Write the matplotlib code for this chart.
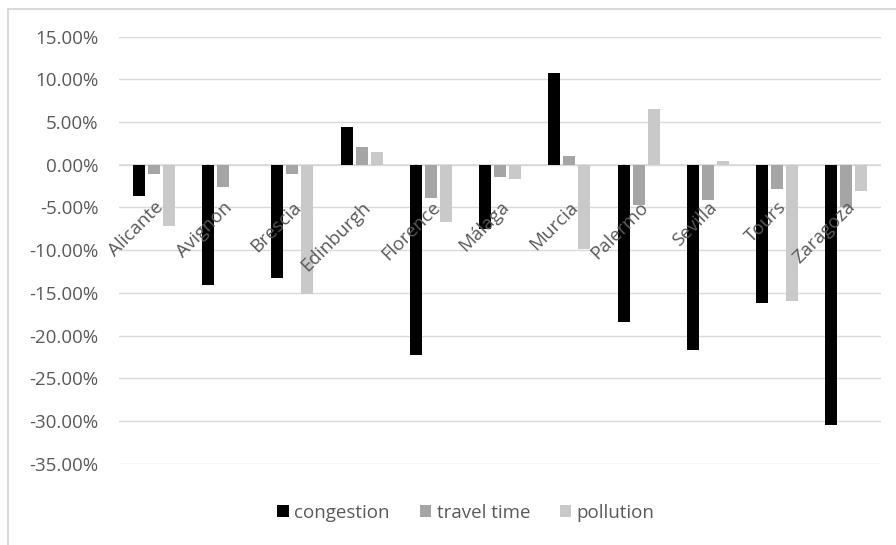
import matplotlib.pyplot as plt
import numpy as np
from matplotlib.patches import Rectangle
from matplotlib.ticker import FuncFormatter

plt.rcParams['font.family'] = ['Open Sans', 'DejaVu Sans']

cities = ['Alicante', 'Avignon', 'Brescia', 'Edinburgh', 'Florence', 'Málaga',
          'Murcia', 'Palermo', 'Sevilla', 'Tours', 'Zaragoza']
congestion = [-3.67, -14.07, -13.3, 4.38, -22.3, -7.5, 10.79, -18.45, -21.64, -16.2, -30.5]
travel_time = [-1.13, -2.58, -1.05, 2.11, -3.87, -1.48, 1.06, -4.72, -4.1, -2.85, -4.92]
pollution = [-7.15, np.nan, -15.15, 1.49, -6.72, -1.68, -9.88, 6.57, 0.47, -16.0, -3.12]
series_names = ['congestion', 'travel time', 'pollution']
colors = ['#000000', '#A5A5A5', '#C9C9C9']

txt = '#595959'
grid = '#D9D9D9'
fs = 13.5


def pct(v, pos):
    v = round(v * 100, 2)
    if v == 0:
        v = 0.0
    return f'{v:.2f}%'


fig = plt.figure(figsize=(8.96, 5.45), dpi=100)
ax = fig.add_axes([119.3 / 896, 1 - 463.6 / 545, 761.7 / 896, 426.9 / 545])

x = np.arange(len(cities))
w = 0.173
step = 0.2165
for k, (vals, name, c) in enumerate(zip([congestion, travel_time, pollution], series_names, colors)):
    ax.bar(x + (k - 1) * step, np.array(vals) / 100, w, color=c, label=name, zorder=3)

ax.set_xlim(-0.5, len(cities) - 0.5)
ax.set_ylim(-0.35, 0.15)
ax.set_yticks(np.arange(-0.35, 0.151, 0.05))
ax.yaxis.set_major_formatter(FuncFormatter(pct))
ax.tick_params(axis='y', length=0, pad=15, labelsize=fs, labelcolor=txt)
ax.set_xticks([])
ax.grid(axis='y', color=grid, linewidth=1.0, zorder=0)
for s in ax.spines.values():
    s.set_visible(False)
ax.axhline(0, color=grid, linewidth=1.2, zorder=2)

# category labels sit at the zero line, rotated like Excel does
for i, name in enumerate(cities):
    ax.annotate(name, (i, 0), xytext=(0, -24), textcoords='offset points',
                rotation=45, ha='right', va='top', rotation_mode='anchor',
                fontsize=fs, color=txt)

ax.legend(loc='center', bbox_to_anchor=(466 / 896, 1 - 513 / 545),
          bbox_transform=fig.transFigure, ncol=3, frameon=False,
          handlelength=0.6, handleheight=0.6, handletextpad=0.3,
          columnspacing=1.6, fontsize=fs, labelcolor=txt)

fig.patches.append(Rectangle((8 / 896, -0.05), 1.1, 1.05 - 9 / 545, transform=fig.transFigure,
                             fill=False, edgecolor=grid, linewidth=1.5))

fig.savefig('out.png', dpi=100)
